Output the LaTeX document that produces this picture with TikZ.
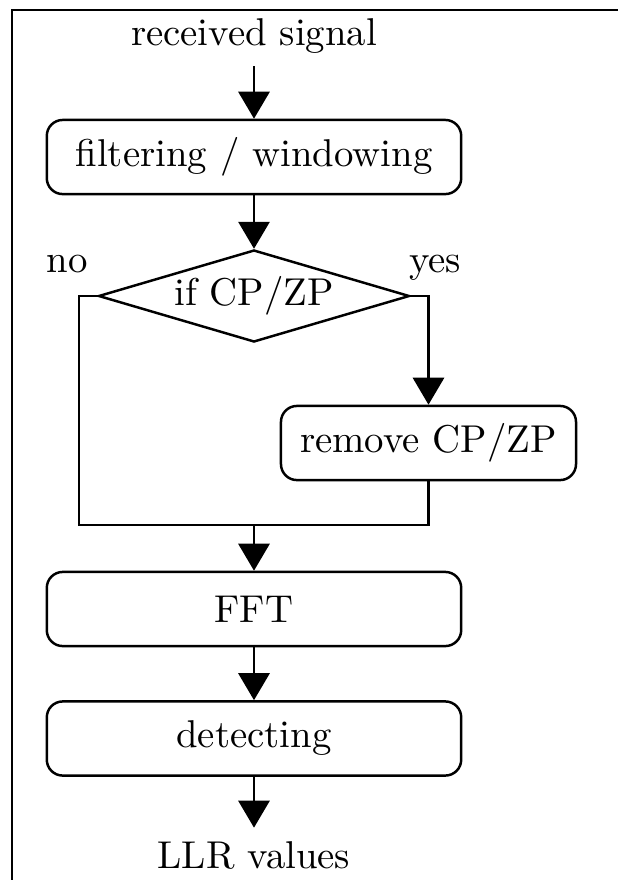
\documentclass[tikz,border=0pt]{standalone}
\usetikzlibrary{arrows.meta,shapes.geometric}

\tikzset{
  framerule/.style={line width=0.75pt},
  flow/.style={line width=0.65pt},
  arrowline/.style={flow, -{Triangle[width=8.2pt,length=7.1pt]}},
  stepbox/.style={draw, line width=0.65pt, rounded corners=4.2pt,
    minimum width=109pt, minimum height=19.5pt, inner sep=2pt},
  decision/.style={draw, line width=0.65pt, shape=diamond, aspect=3.38,
    minimum width=81.8pt, minimum height=24.2pt, inner sep=0pt},
  plainlabel/.style={inner sep=0.3333em},
}

\begin{document}
\begin{tikzpicture}[x=0.263pt, y=-0.263pt, font=\fontsize{10.2pt}{12.2pt}\selectfont]
  \useasboundingbox (0,0) rectangle (618,880);

  % partial outer frame (top and left rules)
  \draw[framerule] (12,880) -- (12,10) -- (618,10);

  % input label
  \node[plainlabel, anchor=base] (rx) at (254,45) {received signal};

  % processing chain
  \node[stepbox] (filt) at (254,157) {filtering / windowing};
  \node[decision] (dec) at (254,296) {if CP/ZP};
  \node[anchor=base, inner sep=0pt] (no) at (67,272) {no};
  \node[anchor=base, inner sep=0pt] (yes) at (435,272) {yes};
  \node[stepbox, minimum width=77.6pt] (rem) at (428.5,443) {remove CP/ZP};
  \coordinate (jl) at (79,525);
  \coordinate (join) at (254,525);
  \node[stepbox] (fft) at (254,609) {FFT};
  \node[stepbox] (det) at (254,738.5) {detecting};

  % output label
  \node[plainlabel, anchor=base] (llr) at (254,868) {LLR values};

  % connectors
  \draw[arrowline] (rx) -- (filt);
  \draw[arrowline] (filt) -- (dec);
  \draw[arrowline] (dec.east) -| (rem.north);
  \draw[flow] (dec.west) -| (jl) -- (rem.south |- jl) -- (rem.south);
  \draw[arrowline] (join) -- (fft);
  \draw[arrowline] (fft) -- (det);
  \draw[arrowline] (det) -- (llr);
\end{tikzpicture}
\end{document}
